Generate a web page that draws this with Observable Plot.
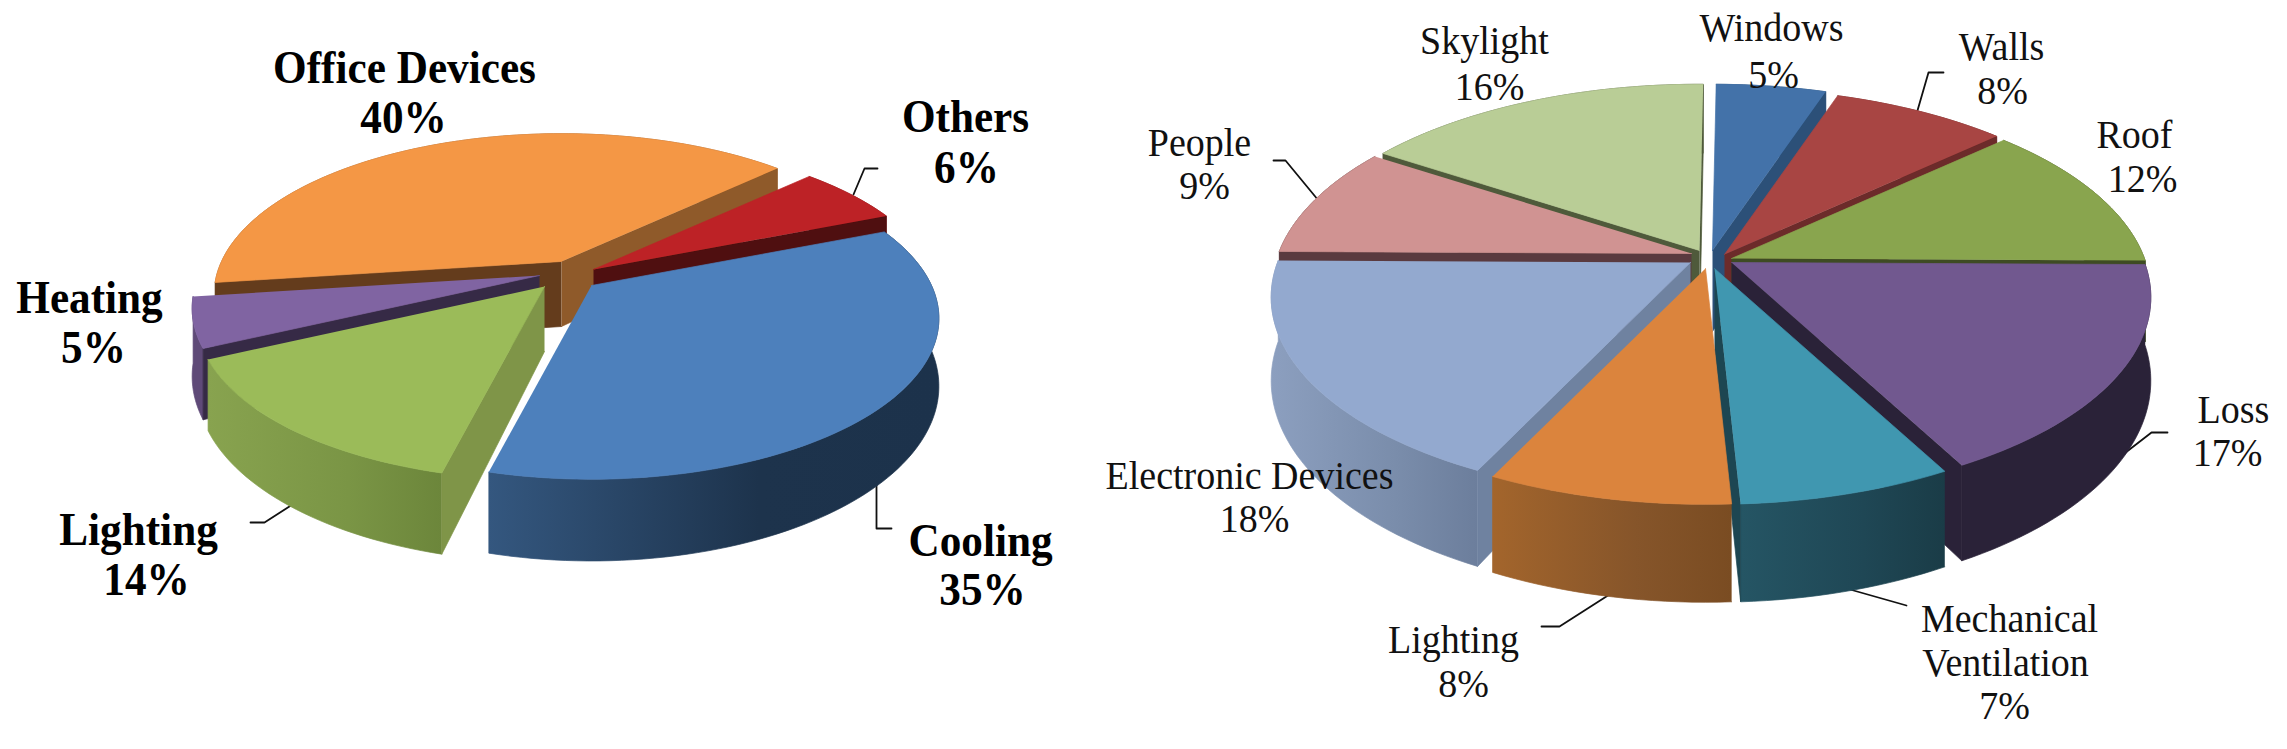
<!DOCTYPE html>
<html>
<head>
<meta charset="utf-8">
<script src="https://cdn.jsdelivr.net/npm/d3@7"></script>
<script src="https://cdn.jsdelivr.net/npm/@observablehq/plot@0.6"></script>
<style>
html,body{margin:0;padding:0;background:#fff}
svg{display:block;max-width:none}
</style>
</head>
<body>
<div id="chart"></div>
<script>
// ---- left pie data ----
const leftCategories = ["Cooling", "Lighting", "Heating", "Office Devices", "Others"];
const leftValues = [35, 14, 5, 40, 6];
// ---- right pie data ----
const rightCategories = ["Windows", "Walls", "Roof", "Loss", "Mechanical Ventilation", "Lighting", "Electronic Devices", "People", "Skylight"];
const rightValues = [5, 8, 12, 17, 7, 8, 18, 9, 16];

// ---- styles ----
const leftTop   = ["#4d80bc", "#9bbb59", "#8064a2", "#f49745", "#bd2226"];
const leftFaceA = ["#1b3049", "#7f9548", "#362a46", "#643c1c", "#4f0f10"];
const leftFaceB = ["#2f5278", "#6f8a3e", "#362a46", "#8f5a2a", "#4f0f10"];
const leftWallL = ["#34577f", "#88a34f", "#5f4a78", "#9a5f2d", "#7c1618"];
const leftWallM = ["#1d334c", "#7a9545", "#5f4a78", "#9a5f2d", "#7c1618"];
const leftWallR = ["#1c324b", "#6c863b", "#5f4a78", "#9a5f2d", "#7c1618"];

const rightTop   = ["#4372a9", "#a84543", "#89a54e", "#71588f", "#4097b0", "#db843d", "#93a9cf", "#d09392", "#b9cd96"];
const rightFaceA = ["#2c5078", "#6c2b2a", "#3e4b23", "#2a2238", "#1d4652", "#7c4d22", "#6f82a0", "#5a3a3f", "#4f5a3b"];
const rightFaceB = ["#2c5078", "#6c2b2a", "#3e4b23", "#2a2238", "#1d4652", "#99602a", "#6f82a0", "#5a3a3f", "#4f5a3b"];
const rightWallL = ["#2c5078", "#6c2b2a", "#3e4b23", "#2a2238", "#255564", "#a3652c", "#8c9fbf", "#5e3c3c", "#4f5a3b"];
const rightWallM = ["#2c5078", "#6c2b2a", "#3e4b23", "#2a2238", "#1f4755", "#86552a", "#7a8dab", "#5e3c3c", "#4f5a3b"];
const rightWallR = ["#2c5078", "#6c2b2a", "#3e4b23", "#2a2238", "#1a3c47", "#7a4c22", "#6c7e9c", "#5e3c3c", "#4f5a3b"];

// ---- pie geometry (projected tilted disc) ----
const leftPie  = {startDeg: 68,  rx: 340, ry: 154, persp: 0.205, depth: 65};
const rightPie = {startDeg: 0.6, rx: 413, ry: 195, persp: 0.173, depth: 81};
const leftApexX  = [591, 544, 539, 561, 593];
const leftApexY  = [285, 286, 275, 261, 269];
const rightApexX = [1712, 1724, 1731, 1731, 1714, 1705, 1690, 1691, 1699];
const rightApexY = [250, 254, 258, 262, 268, 268, 262, 253, 250];
const leftPaint  = [3, 2, 4, 1, 0];
const rightPaint = [8, 0, 1, 2, 7, 3, 6, 4, 5];

// ---- label anchors ----
const leftLabelX  = [980, 138, 89, 404, 965];
const leftLabelY  = [540, 529, 297, 67, 116];
const leftPctX    = [982, 146, 93, 403, 966];
const leftPctY    = [589, 579, 347, 117, 167];
const rightLabelX = [1771, 2001, 2134, 2233, 2009, 1453, 1249, 1199, 1484];
const rightLabelY = [28, 47, 135, 410, 619, 640, 476, 143, 41];
const rightPctX   = [1773, 2002, 2142, 2227, 2004, 1463, 1254, 1204, 1489];
const rightPctY   = [75, 91, 179, 453, 706, 684, 519, 186, 87];

const leaderLines = [
  [[877,168],[864,168],[853,194]],
  [[876,483],[876,528],[891,528]],
  [[292,504],[264,522],[250,522]],
  [[1943,72],[1928,72],[1917,110]],
  [[1273,160],[1285,160],[1318,200]],
  [[2167,432],[2151,432],[2107,466]],
  [[1846,588],[1906,605]],
  [[1609,594],[1559,626],[1541,626]]
];

const rows = [];
const gradients = [];
let polyId = 0;
function addPoly(points, color) {
  const id = polyId++;
  for (const [x, y] of points) rows.push({x, y, id, color});
}
function addPie(pie, name, values, apexX, apexY, paint, top, faceA, faceB, wallL, wallM, wallR) {
  const total = d3.sum(values);
  let acc = pie.startDeg;
  const spans = values.map(v => { const a0 = acc; acc += v / total * 360; return [a0, acc]; });
  for (const i of paint) {
    const [a0, a1] = spans[i];
    const pt = (deg, drop) => {
      const t = deg * Math.PI / 180, u = Math.sin(t), v = Math.cos(t), den = 1 + pie.persp * v;
      return [apexX[i] + pie.rx * u / den, apexY[i] + (-pie.ry * v + drop) / den];
    };
    const apex = drop => [apexX[i], apexY[i] + drop];
    const n = Math.max(6, Math.round((a1 - a0) / 1.5));
    const arc = drop => d3.range(n + 1).map(s => pt(a0 + (a1 - a0) * s / n, drop));
    // outer wall first, viewer-facing radial faces over it, top last
    const gid = `${name}-wall-${i}`;
    gradients.push({id: gid, stops: [wallL[i], wallM[i], wallR[i]]});
    addPoly([...arc(0), ...arc(pie.depth).reverse()], `url(#${gid})`);
    if (pt(a0, 0)[0] < apexX[i]) addPoly([apex(0), pt(a0, 0), pt(a0, pie.depth), apex(pie.depth)], faceA[i]);
    if (pt(a1, 0)[0] > apexX[i]) addPoly([apex(0), pt(a1, 0), pt(a1, pie.depth), apex(pie.depth)], faceB[i]);
    addPoly([apex(0), ...arc(0)], top[i]);
  }
}
addPie(leftPie, "left", leftValues, leftApexX, leftApexY, leftPaint, leftTop, leftFaceA, leftFaceB, leftWallL, leftWallM, leftWallR);
addPie(rightPie, "right", rightValues, rightApexX, rightApexY, rightPaint, rightTop, rightFaceA, rightFaceB, rightWallL, rightWallM, rightWallR);

const leftText = [];
leftCategories.forEach((c, i) => {
  leftText.push({x: leftLabelX[i], y: leftLabelY[i], t: c});
  leftText.push({x: leftPctX[i], y: leftPctY[i], t: leftValues[i] + "%"});
});
const rightText = [];
rightCategories.forEach((c, i) => {
  if (c === "Mechanical Ventilation") {
    rightText.push({x: rightLabelX[i], y: rightLabelY[i], t: "Mechanical"});
    rightText.push({x: rightLabelX[i] - 4, y: rightLabelY[i] + 44, t: "Ventilation"});
  } else {
    rightText.push({x: rightLabelX[i], y: rightLabelY[i], t: c});
  }
  rightText.push({x: rightPctX[i], y: rightPctY[i], t: rightValues[i] + "%"});
});
const leaderRows = leaderLines.flatMap((pts, id) => pts.map(([x, y]) => ({x, y, id})));

const chart = Plot.plot({
  width: 2287,
  height: 749,
  margin: 0,
  style: {background: "#fff"},
  x: {domain: [0, 2287], range: [0, 2287], axis: null},
  y: {domain: [0, 749], range: [0, 749], axis: null},
  color: {type: "identity"},
  marks: [
    Plot.line(leaderRows, {x: "x", y: "y", z: "id", stroke: "#111", strokeWidth: 1.8}),
    Plot.line(rows, {x: "x", y: "y", z: "id", fill: "color", stroke: "color", strokeWidth: 0.7}),
    Plot.text(leftText, {x: "x", y: "y", text: "t", fontFamily: "Liberation Serif", fontWeight: "bold", fontSize: 47, fill: "#000", textAnchor: "middle", lineAnchor: "middle", className: "lab-left"}),
    Plot.text(rightText, {x: "x", y: "y", text: "t", fontFamily: "Liberation Serif", fontSize: 40, fill: "#111", textAnchor: "middle", lineAnchor: "middle", className: "lab-right"})
  ]
});

// horizontal wall shading
const defs = d3.select(chart).insert("defs", ":first-child");
for (const g of gradients) {
  const lg = defs.append("linearGradient").attr("id", g.id).attr("x1", 0).attr("x2", 1).attr("y1", 0).attr("y2", 0);
  [0, 0.6, 1].forEach((o, k) => lg.append("stop").attr("offset", o).attr("stop-color", g.stops[k]));
}
// the reference's lettering is slightly condensed
d3.select(chart).selectAll("g.lab-left text, g.lab-right text").each(function () {
  const t = this.getAttribute("transform") || "";
  const sx = this.parentNode.getAttribute("class").includes("lab-left") ? 0.92 : 0.95;
  this.setAttribute("transform", `${t} scale(${sx},1)`);
});
document.getElementById("chart").appendChild(chart);
</script>
</body>
</html>
